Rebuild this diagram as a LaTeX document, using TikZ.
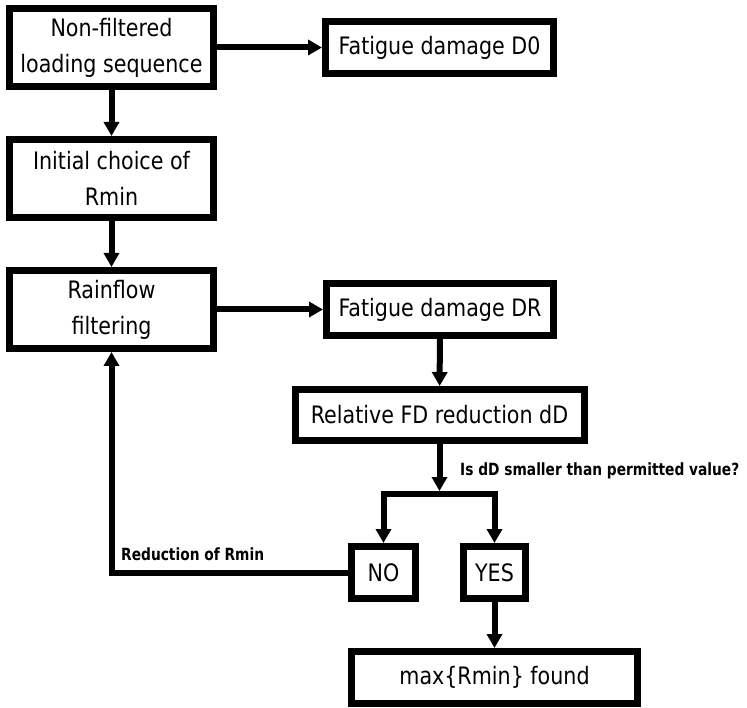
\documentclass[tikz,border=0pt]{standalone}
\usepackage{fontspec}
\usetikzlibrary{arrows.meta}
\newfontfamily\boxfont{DejaVu Sans}[FakeStretch=0.86]
\newfontfamily\lblfont{DejaVu Sans Bold}[FakeStretch=0.82]
\begin{document}
\begin{tikzpicture}[x=1pt,y=-1pt,
  stepbox/.style={draw, line width=7pt, inner sep=0pt, align=center,
    font=\boxfont\fontsize{24}{36}\selectfont},
  conn/.style={line width=6pt, -{Triangle[width=15pt,length=14pt]}},
  plain/.style={line width=6pt},
  lbl/.style={inner sep=0pt, font=\lblfont\fontsize{16.8}{20}\selectfont}]
\useasboundingbox (0,0) rectangle (747,708);

% left column
\node[stepbox, minimum width=204pt, minimum height=78pt] (seq) at (111.5,47.5)
  {Non-filtered\\loading sequence};
\node[stepbox, minimum width=204pt, minimum height=78pt] (init) at (111.5,178.5)
  {Initial choice of\\Rmin};
\node[stepbox, minimum width=204pt, minimum height=78pt] (rain) at (111.5,309.5)
  {Rainflow\\filtering};

% right column
\node[stepbox, minimum width=228pt, minimum height=52pt] (d0) at (439.5,47.5)
  {Fatigue damage D0};
\node[stepbox, minimum width=227pt, minimum height=52pt] (dr) at (440,309.5)
  {Fatigue damage DR};
\node[stepbox, minimum width=289pt, minimum height=51pt] (dd) at (439.5,415)
  {Relative FD reduction dD};

% decision outcomes
\node[stepbox, minimum width=64pt, minimum height=52pt] (no) at (383.5,572.5) {NO};
\node[stepbox, minimum width=62pt, minimum height=52pt] (yes) at (494.5,572.5) {YES};
\node[stepbox, minimum width=286pt, minimum height=52pt] (found) at (494.5,677.5)
  {max\{Rmin\} found};

% branch points
\coordinate (split) at (439.5,491);
\coordinate (bl) at (383.5,494);
\coordinate (br) at (494.5,494);

% connectors
\draw[conn] (seq) -- (d0);
\draw[conn] (seq) -- (init);
\draw[conn] (init) -- (rain);
\draw[conn] (rain) -- (dr);
\draw[conn] (dr) -- (dd);
\draw[conn] (dd) -- (split);
\draw[conn] (br) -| (no);
\draw[conn] (bl) -| (yes);
\draw[conn] (yes) -- (found);
\draw[conn] (no) -| (rain);

% labels
\node[lbl, anchor=base west] (question) at (460,475)
  {Is dD smaller than permitted value?};
\node[lbl, anchor=base west] (reduce) at (121,560)
  {Reduction of Rmin};
\end{tikzpicture}
\end{document}
